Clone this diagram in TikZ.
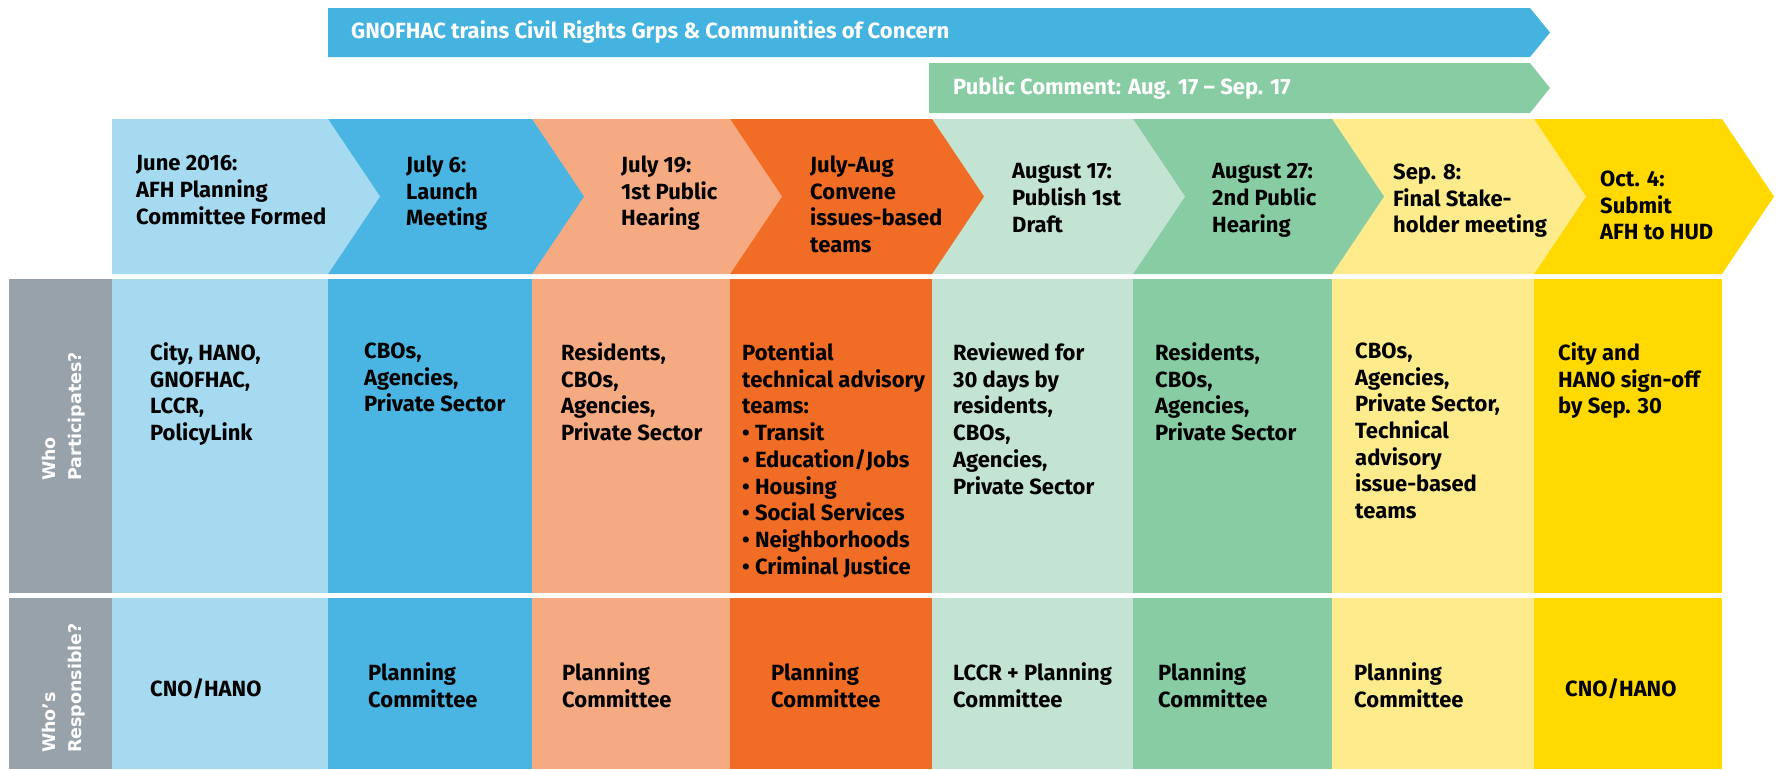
\documentclass[tikz,border=0pt]{standalone}
\usepackage{fontspec}
\setmainfont{Fira Sans}
\newfontfamily\sidefont{DejaVu Sans}
\definecolor{skylight}{HTML}{A5DAF1}
\definecolor{sky}{HTML}{4AB5E3}
\definecolor{salmon}{HTML}{F6AA82}
\definecolor{tangerine}{HTML}{F16C25}
\definecolor{mint}{HTML}{C4E4D3}
\definecolor{sage}{HTML}{88CCA4}
\definecolor{butter}{HTML}{FDEB8C}
\definecolor{gold}{HTML}{FFD900}
\definecolor{slate}{HTML}{98A2AB}
\definecolor{barblue}{HTML}{45B3E0}

\begin{document}
\begin{tikzpicture}[x=1pt,y=-1pt,
    txt/.style={font=\bfseries\fontsize{22}{26.7}\selectfont, align=left, inner sep=0pt, anchor=north west},
    bartxt/.style={font=\bfseries\fontsize{22}{24}\selectfont, text=white, inner sep=0pt, anchor=west},
    side/.style={font=\sidefont\bfseries\fontsize{17.5}{26}\selectfont, text=white, align=left, inner sep=0pt, rotate=90, anchor=west}]
  \useasboundingbox (0,0) rectangle (1776,769);
  % bars on top
  \fill[barblue] (328,8) -- (1530,8) -- (1550,32.5) -- (1530,57) -- (328,57) -- cycle;
  \fill[sage] (929,63) -- (1530,63) -- (1550,88) -- (1530,113) -- (929,113) -- cycle;
  \node[bartxt] (train) at (351,32.5) {GNOFHAC trains Civil Rights Grps \& Communities of Concern};
  \node[bartxt] (comment) at (953,88) {Public Comment: Aug. 17 – Sep. 17};
  % chevrons, right to left
  \foreach \xa/\xb/\c in {1534/1722/gold, 1332/1534/butter, 1133/1332/sage, 932/1133/mint,
                          730/932/tangerine, 532/730/salmon, 328/532/sky, 112/328/skylight}
    \fill[\c] (\xa,119) -- (\xb,119) -- (\xb+52,196.5) -- (\xb,274) -- (\xa,274) -- cycle;
  % columns
  \foreach \xa/\xb/\c in {9/112/slate, 112/328/skylight, 328/532/sky, 532/730/salmon, 730/932/tangerine,
                          932/1133/mint, 1133/1332/sage, 1332/1534/butter, 1534/1722/gold} {
    \fill[\c] (\xa,279) rectangle (\xb,593);
    \fill[\c] (\xa,598) rectangle (\xb,769);
  }
  \node[side] (who) at (64,481) {Who\\Participates?};
  \node[side] (resp) at (64,753) {Who’s\\Responsible?};
  % dates
  \node[txt] (d1) at (136,155.5) {June 2016:\\AFH Planning\\Committee Formed};
  \node[txt] (d2) at (406,155.5) {July 6:\\Launch\\Meeting};
  \node[txt] (d3) at (621,155.5) {July 19:\\1st Public\\Hearing};
  \node[txt] (d4) at (810,155.5) {July-Aug\\Convene\\issues-based\\teams};
  \node[txt] (d5) at (1012,163.5) {August 17:\\Publish 1st\\Draft};
  \node[txt] (d6) at (1212,163.5) {August 27:\\2nd Public\\Hearing};
  \node[txt] (d7) at (1393,163.5) {Sep. 8:\\Final Stake-\\holder meeting};
  \node[txt] (d8) at (1600,170.5) {Oct. 4:\\Submit\\AFH to HUD};
  % who participates
  \node[txt] (p1) at (150,342.5) {City, HANO,\\GNOFHAC,\\LCCR,\\PolicyLink};
  \node[txt] (p2) at (364,342.5) {CBOs,\\Agencies,\\Private Sector};
  \node[txt] (p3) at (561,342.5) {Residents,\\CBOs,\\Agencies,\\Private Sector};
  \node[txt] (p4) at (742,342.5) {Potential\\technical advisory\\teams:\\• Transit\\• Education/Jobs\\• Housing\\• Social Services\\• Neighborhoods\\• Criminal Justice};
  \node[txt] (p5) at (953,342.5) {Reviewed for\\30 days by\\residents,\\CBOs,\\Agencies,\\Private Sector};
  \node[txt] (p6) at (1155,342.5) {Residents,\\CBOs,\\Agencies,\\Private Sector};
  \node[txt] (p7) at (1355,342.5) {CBOs,\\Agencies,\\Private Sector,\\Technical\\advisory\\issue-based\\teams};
  \node[txt] (p8) at (1558,342.5) {City and\\HANO sign-off\\by Sep. 30};
  % who is responsible
  \node[txt] (r1) at (150,678.5) {CNO/HANO};
  \node[txt] (r2) at (368,662.5) {Planning\\Committee};
  \node[txt] (r3) at (562,662.5) {Planning\\Committee};
  \node[txt] (r4) at (771,662.5) {Planning\\Committee};
  \node[txt] (r5) at (953,662.5) {LCCR + Planning\\Committee};
  \node[txt] (r6) at (1158,662.5) {Planning\\Committee};
  \node[txt] (r7) at (1354,662.5) {Planning\\Committee};
  \node[txt] (r8) at (1565,678.5) {CNO/HANO};
\end{tikzpicture}
\end{document}
